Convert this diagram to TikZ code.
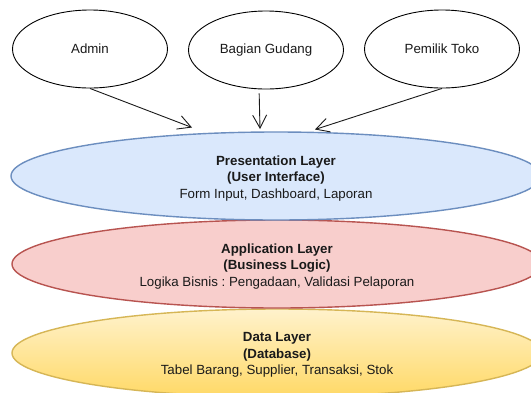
\documentclass[tikz,border=0pt]{standalone}
\usepackage{fontspec}
\setmainfont{Liberation Sans}
\usetikzlibrary{shapes.geometric,arrows.meta}
\frenchspacing

\definecolor{blueFill}{HTML}{DAE8FC}
\definecolor{blueLine}{HTML}{6C8EBF}
\definecolor{redFill}{HTML}{F8CECC}
\definecolor{redLine}{HTML}{B85450}
\definecolor{yellowTop}{HTML}{FFF2CC}
\definecolor{yellowBot}{HTML}{FFD966}
\definecolor{yellowLine}{HTML}{D6B656}
\definecolor{inkText}{HTML}{1A1A1A}

\tikzset{
  actor/.style={ellipse, draw=black, line width=0.9pt, minimum width=155pt,
    minimum height=78pt, inner sep=0pt, text=inkText,
    font=\fontsize{13.3}{15}\selectfont},
  layer/.style={ellipse, line width=1.4pt, minimum width=530pt,
    minimum height=88pt, inner sep=0pt},
  layertext/.style={align=center, text=inkText, inner sep=0pt,
    font=\fontsize{13.3}{16.5}\selectfont},
  flow/.style={draw=inkText, line width=0.9pt,
    -{Straight Barb[length=13pt,width=14pt,line width=0.9pt]}},
}

\begin{document}
\begin{tikzpicture}[x=1pt,y=-1pt]
  \useasboundingbox (0,0) rectangle (531,392);
  \fill[white] (0,0) rectangle (531,392);
  \clip (0,0) rectangle (531,392);

  % architecture layers, top to bottom
  \node[layer, draw=yellowLine, top color=yellowTop, bottom color=yellowBot]
    (data) at (277,353) {};
  \node[layertext] (dataText) at ([yshift=-2pt]data.center)
    {\textbf{Data Layer}\\\textbf{(Database)}\\Tabel Barang, Supplier, Transaksi, Stok};
  \node[layer, draw=redLine, fill=redFill]
    (app) at (277,264) {};
  \node[layertext] (appText) at ([yshift=-2.5pt]app.center)
    {\textbf{Application Layer}\\\textbf{(Business Logic)}\\Logika Bisnis : Pengadaan, Validasi Pelaporan};
  \node[layer, draw=blueLine, fill=blueFill]
    (pres) at (276,176) {};
  \node[layertext] (presText) at ([yshift=-2.5pt]pres.center)
    {\textbf{Presentation Layer}\\\textbf{(User Interface)}\\Form Input, Dashboard, Laporan};

  % users of the system
  \node[actor] (admin) at (90,49) {Admin};
  \node[actor] (gudang) at (266,50) {Bagian Gudang};
  \node[actor] (pemilik) at (442,49) {Pemilik Toko};

  % entry points on the presentation layer
  \coordinate (inAdmin) at (192,127.5);
  \coordinate (inGudang) at (260,129);
  \coordinate (inPemilik) at (315,129.5);

  \draw[flow] (admin.south) -- (inAdmin);
  \draw[flow, shorten <=4pt] (gudang.-100) -- (inGudang);
  \draw[flow] (pemilik.south) -- (inPemilik);
\end{tikzpicture}
\end{document}
